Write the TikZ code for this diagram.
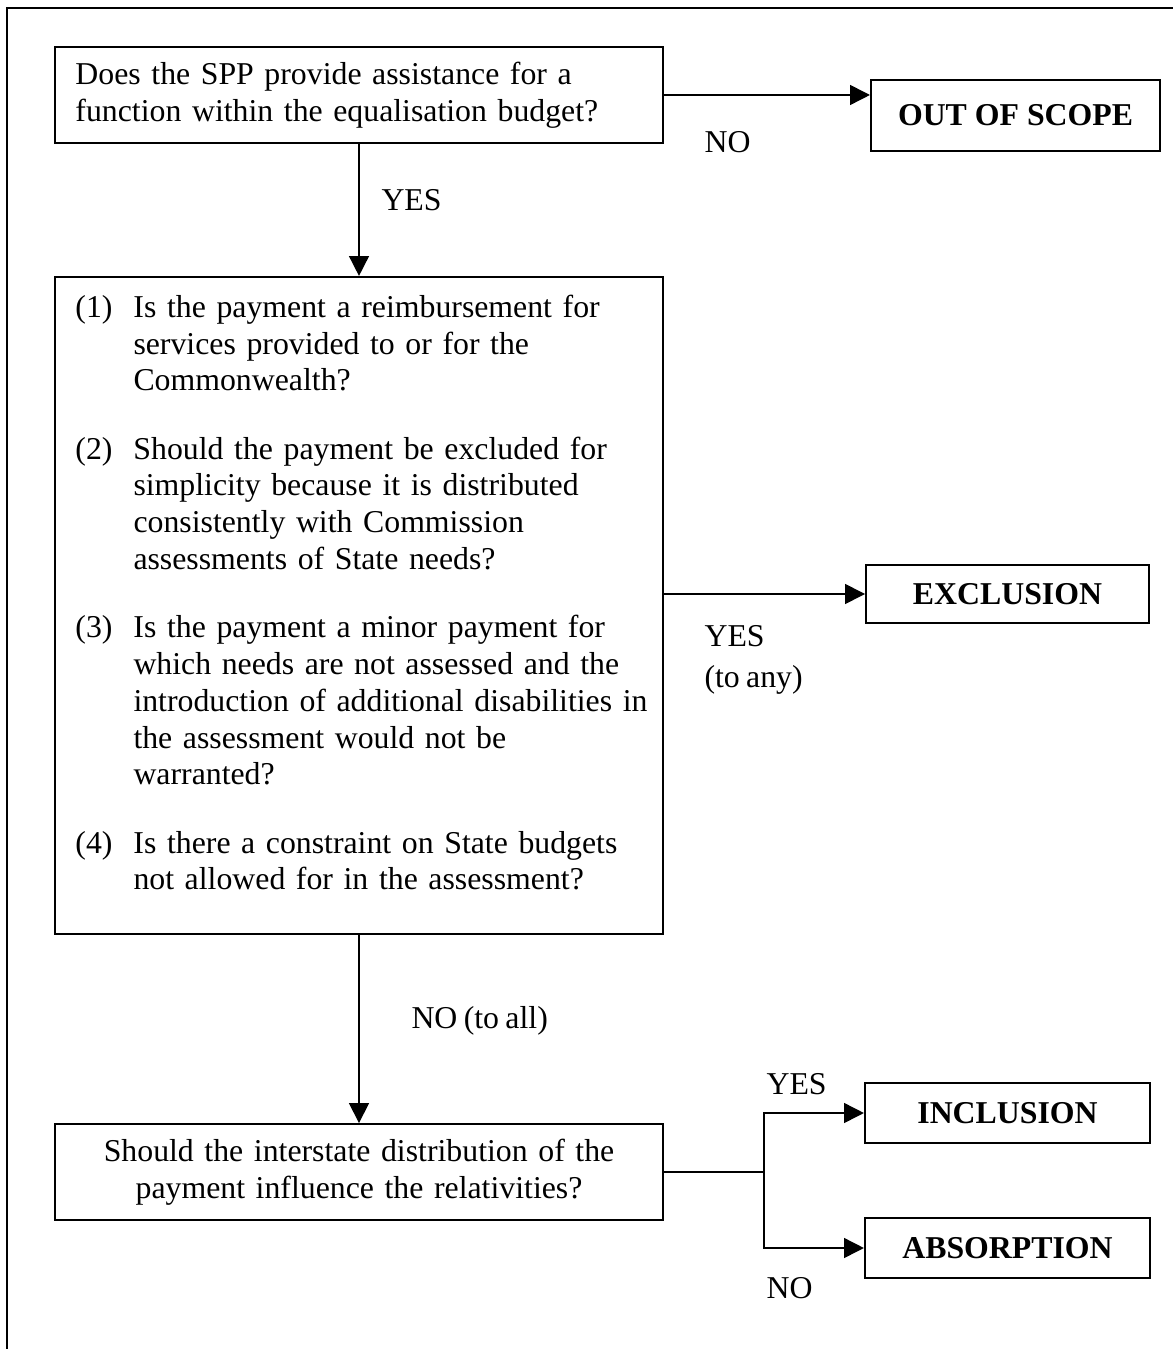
\documentclass[tikz,border=0pt]{standalone}
\usepackage{fontspec}
\setmainfont{Liberation Serif}
\usetikzlibrary{arrows.meta}
\newcommand\tightsp{\spaceskip=2.4pt plus 1pt minus 0.5pt\relax}

\begin{document}
\begin{tikzpicture}[x=0.3774pt, y=-0.3774pt,
  font=\fontsize{12}{13.9}\selectfont\tightsp,
  qbox/.style={draw, line width=0.75pt, inner sep=0pt,
    minimum width=229.5pt, text width=214pt},
  outbox/.style={draw, line width=0.75pt, inner sep=0pt,
    font=\fontsize{12}{13.9}\selectfont\bfseries},
  lbl/.style={inner sep=0pt, anchor=west, align=left},
  arr/.style={-{Triangle[length=7.5pt, width=7.5pt]}, line width=0.6pt}]
\useasboundingbox (0,0) rectangle (1173,1349);
% frame
\draw[line width=0.8pt] (7,1349) -- (7,8) -- (1173,8);
% Top: first question
\node[qbox, align=left, minimum height=36.2pt]
  (q1) at (359,95) {Does the SPP provide assistance for a\\
  function within the equalisation budget?};
\node[outbox, minimum width=109.1pt, minimum height=26.8pt]
  (oos) at (1015.5,115.5) {OUT OF SCOPE};
\draw[arr] (q1.east) -- (q1.east -| oos.west);
\node[lbl] (noOos) at (704,142) {NO};
% Middle: the four tests
\node[qbox, align=left, minimum height=248pt]
  (q2) at (359,605.5) {%
  \begin{tabular}{@{}p{21.9pt}@{}l@{}}
  (1) & Is the payment a reimbursement for\\
      & services provided to or for the\\
      & Commonwealth?\\[11.8pt]
  (2) & Should the payment be excluded for\\
      & simplicity because it is distributed\\
      & consistently with Commission\\
      & assessments of State needs?\\[11.8pt]
  (3) & Is the payment a minor payment for\\
      & which needs are not assessed and the\\
      & introduction of additional disabilities in\\
      & the assessment would not be\\
      & warranted?\\[11.8pt]
  (4) & Is there a constraint on State budgets\\
      & not allowed for in the assessment?\\[7pt]
  \end{tabular}};
\draw[arr] (q1.south) -- (q2.north);
\node[lbl] (yesQ2) at (381,200) {YES};
\node[outbox, minimum width=106.8pt, minimum height=21.9pt]
  (excl) at (1007.5,594) {EXCLUSION};
\draw[arr] (q2.east |- excl.west) -- (excl.west);
\node[lbl] (yesExcl) at (704,660) {YES\\[1.5pt](to any)};
% Bottom: last question
\node[qbox, align=center, minimum height=36.2pt]
  (q3) at (359,1172) {Should the interstate distribution of the\\
  payment influence the relativities?};
\draw[arr] (q2.south) -- (q3.north);
\node[lbl] (noAll) at (411,1021) {NO (to all)};
\node[outbox, minimum width=107.6pt, minimum height=22.3pt]
  (incl) at (1007.5,1113) {INCLUSION};
\node[outbox, minimum width=107.6pt, minimum height=22.3pt]
  (absorb) at (1007.5,1248) {ABSORPTION};
\coordinate (split) at (764,1172);
\draw[line width=0.6pt] (q3.east) -- (split);
\draw[arr] (split) |- (incl.west);
\draw[arr] (split) |- (absorb.west);
\node[lbl] (yesIncl) at (766,1084) {YES};
\node[lbl] (noAbs) at (766,1288) {NO};
\end{tikzpicture}
\end{document}
